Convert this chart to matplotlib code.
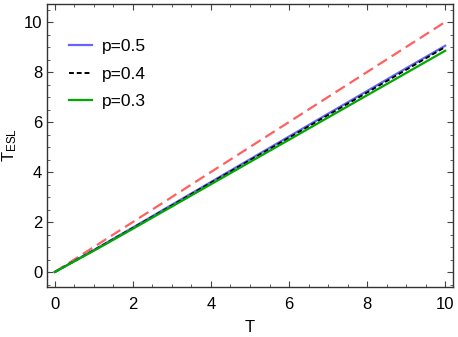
import matplotlib

matplotlib.use("Agg")
import matplotlib.pyplot as plt
from matplotlib.ticker import MultipleLocator

# values
T = [0, 1, 2, 3, 4, 5, 6, 7, 8, 9, 10]
esl_p05 = [0, 0.88, 1.78, 2.69, 3.60, 4.51, 5.42, 6.33, 7.24, 8.15, 9.05]
esl_p04 = [0, 0.87, 1.76, 2.66, 3.57, 4.47, 5.37, 6.28, 7.18, 8.09, 9.00]
esl_p03 = [0, 0.85, 1.73, 2.62, 3.51, 4.40, 5.29, 6.18, 7.07, 7.96, 8.85]
ref_T = [0, 10]
ref_esl = [0, 10]
labels = ["p=0.5", "p=0.4", "p=0.3"]

plt.rcParams["font.family"] = ["Liberation Sans", "DejaVu Sans"]
plt.rcParams["mathtext.default"] = "regular"

fig = plt.figure(figsize=(4.58, 3.37), dpi=100)
# frame spans roughly px 47..453 horizontally, 4..287 vertically
ax = fig.add_axes([47 / 458, 50 / 337, 406 / 458, 283 / 337])

ax.plot(ref_T, ref_esl, color="#ff6060", linewidth=1.6, dashes=(5, 2.5))
ax.plot(T, esl_p05, color="#6464ff", linewidth=1.6, label=labels[0])
ax.plot(T, esl_p04, color="black", linewidth=1.4, dashes=(2.5, 1.5), label=labels[1])
ax.plot(T, esl_p03, color="#00a800", linewidth=1.6, label=labels[2])

ax.set_xlim(-0.2, 10.2)
ax.set_ylim(-0.6, 10.72)
ax.xaxis.set_major_locator(MultipleLocator(2))
ax.xaxis.set_minor_locator(MultipleLocator(0.5))
ax.yaxis.set_major_locator(MultipleLocator(2))
ax.yaxis.set_minor_locator(MultipleLocator(0.5))
ax.tick_params(which="both", direction="in", top=True, right=True,
               labelsize=12, color="#444444")
ax.tick_params(which="major", length=4, width=0.8)
ax.tick_params(which="minor", length=2.2, width=0.6)
ax.tick_params(axis="x", which="major", pad=7)
for sp in ax.spines.values():
    sp.set_color("#333333")
    sp.set_linewidth(1.0)

ax.set_xlabel("T", fontsize=12, labelpad=6)
ax.set_ylabel(r"T$_{ESL}$", fontsize=12, labelpad=3)

ax.legend(loc="upper left", frameon=False, fontsize=12.5, handlelength=1.35,
          handletextpad=0.55, labelspacing=0.71, borderpad=0, borderaxespad=0,
          bbox_to_anchor=(0.054, 0.876))

fig.savefig("out.png", dpi=100)
